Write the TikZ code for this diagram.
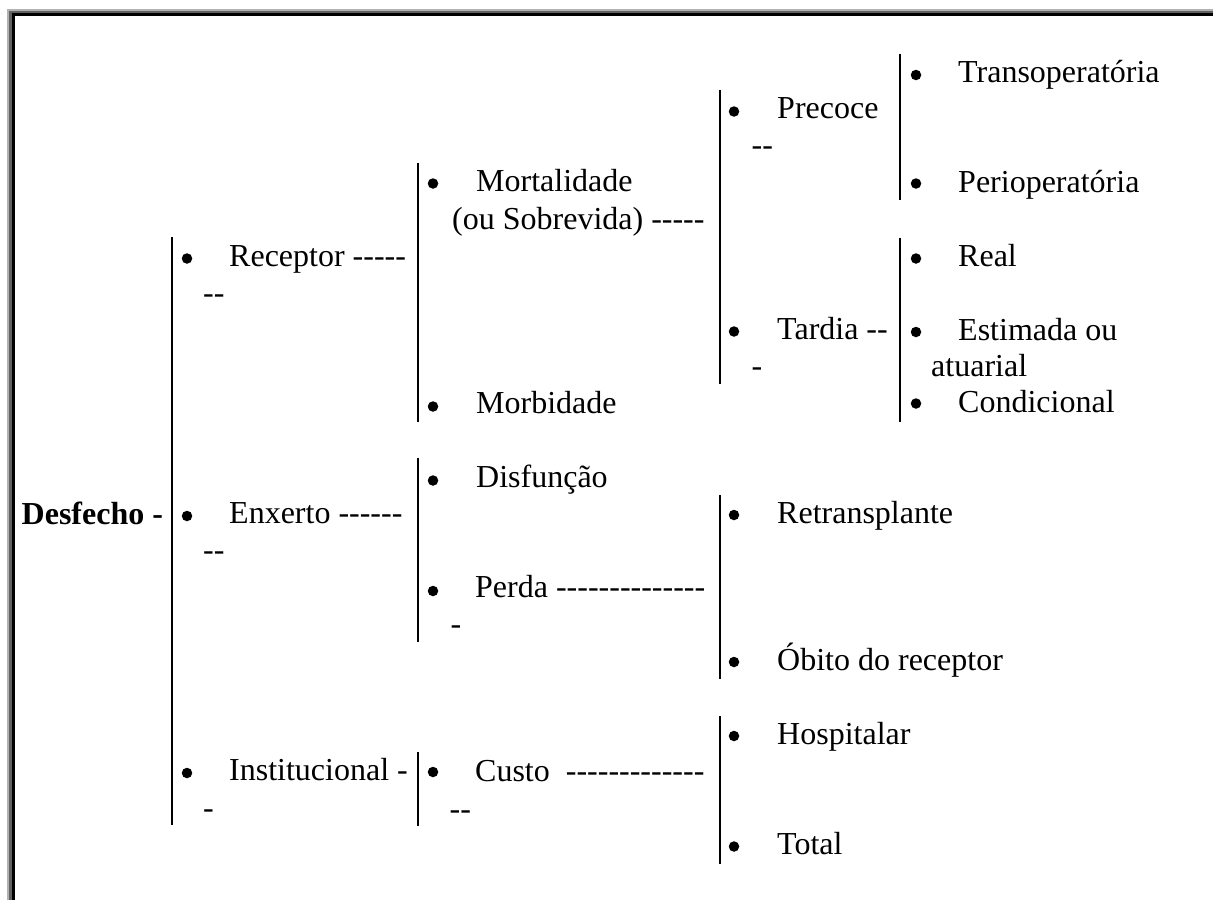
\documentclass[tikz,border=0pt]{standalone}
\usepackage{fontspec}
\setmainfont{Liberation Serif}
\newcommand\hp{-\kern0pt }
\begin{document}
\begin{tikzpicture}[x=1pt,y=-1pt,
  txt/.style={anchor=base west,inner sep=0pt,font=\fontsize{32}{37}\selectfont},
  btxt/.style={anchor=base west,inner sep=0pt,font=\fontsize{32}{37}\selectfont\bfseries},
  blt/.style={circle,fill=black,inner sep=0pt,minimum size=10.5pt},
  bar/.style={line width=2.2pt,black},
  frameA/.style={fill=black!30},
  frameB/.style={fill=black!62},
  frameC/.style={fill=black}]
\useasboundingbox (0,0) rectangle (1213,900);
\fill[white] (0,0) rectangle (1213,900);
% window frame (top and left edges)
\fill[frameA] (7,9) rectangle (1213,11);
\fill[frameA] (7,9) rectangle (9,900);
\fill[frameB] (9,11) rectangle (1213,13);
\fill[frameB] (9,11) rectangle (12,900);
\fill[frameC] (12,13) rectangle (1213,15.5);
\fill[frameC] (12,13) rectangle (14.5,900);

% bracket bars
\coordinate (b1t) at (172,237);   \coordinate (b1b) at (172,825);
\coordinate (b2t) at (418,163);   \coordinate (b2b) at (418,421.7);
\coordinate (b3t) at (418,458);   \coordinate (b3b) at (418,642);
\coordinate (b4t) at (418,752);   \coordinate (b4b) at (418,825.5);
\coordinate (b5t) at (720,90);    \coordinate (b5b) at (720,384);
\coordinate (b6t) at (720,495);   \coordinate (b6b) at (720,678.5);
\coordinate (b7t) at (720,716);   \coordinate (b7b) at (720,863.5);
\coordinate (b8t) at (900,53.5);  \coordinate (b8b) at (900,200);
\coordinate (b9t) at (900,237.5); \coordinate (b9b) at (900,421.5);
\foreach \b in {b1,b2,b3,b4,b5,b6,b7,b8,b9} \draw[bar] (\b t) -- (\b b);

% level 0
\node[btxt] (desfecho) at (21.5,524) {Desfecho -};

% level 1
\node[blt] (d1) at (187,258.5) {};
\node[txt] (receptor) at (229,266) {Receptor \hp\hp\hp\hp\hp};
\node[txt] (receptorB) at (203,303) {\hp\hp};
\node[blt] (d2) at (187,516) {};
\node[txt] (enxerto) at (229,523.5) {Enxerto \hp\hp\hp\hp\hp\hp};
\node[txt] (enxertoB) at (203,560.5) {\hp\hp};
\node[blt] (d3) at (187,773) {};
\node[txt] (instit) at (229,780.5) {Institucional \hp};
\node[txt] (institB) at (203,818) {\hp};

% level 2
\node[blt] (d4) at (433,183.5) {};
\node[txt] (mortal) at (476,191.5) {Mortalidade};
\node[txt] (mortalB) at (452,229) {(ou Sobrevida) \hp\hp\hp\hp\hp};
\node[blt] (d5) at (433,406.5) {};
\node[txt] (morbid) at (476,413.5) {Morbidade};
\node[blt] (d6) at (433,480.5) {};
\node[txt] (disfun) at (476,487) {Disfunção};
\node[blt] (d7) at (433,591) {};
\node[txt] (perda) at (475,597) {Perda \hp\hp\hp\hp\hp\hp\hp\hp\hp\hp\hp\hp\hp\hp};
\node[txt] (perdaB) at (450.5,634) {\hp};
\node[blt] (d8) at (433,772) {};
\node[txt] (custo) at (475,781) {Custo\ \ \hp\hp\hp\hp\hp\hp\hp\hp\hp\hp\hp\hp\hp};
\node[txt] (custoB) at (449.5,819) {\hp\hp};

% level 3
\node[blt] (d9) at (734,111.5) {};
\node[txt] (precoce) at (777,118.5) {Precoce};
\node[txt] (precoceB) at (751.5,155) {\hp\hp};
\node[blt] (d10) at (734,331.5) {};
\node[txt] (tardia) at (777,339.5) {Tardia \hp\hp};
\node[txt] (tardiaB) at (751.5,376) {\hp};
\node[blt] (d11) at (734,515) {};
\node[txt] (retrans) at (777,523.5) {Retransplante};
\node[blt] (d12) at (734,662) {};
\node[txt] (obito) at (777,670) {Óbito do receptor};
\node[blt] (d13) at (734,736) {};
\node[txt] (hosp) at (777,744.5) {Hospitalar};
\node[blt] (d14) at (734,846.5) {};
\node[txt] (total) at (777,854.5) {Total};

% level 4
\node[blt] (d15) at (916,75) {};
\node[txt] (transop) at (958,82) {Transoperatória};
\node[blt] (d16) at (916,183.5) {};
\node[txt] (periop) at (958,192) {Perioperatória};
\node[blt] (d17) at (916,258.5) {};
\node[txt] (real) at (958,266) {Real};
\node[blt] (d18) at (916,332) {};
\node[txt] (estim) at (958,340) {Estimada ou};
\node[txt] (estimB) at (931,376) {atuarial};
\node[blt] (d19) at (916,403.5) {};
\node[txt] (condic) at (958,412) {Condicional};
\end{tikzpicture}
\end{document}
